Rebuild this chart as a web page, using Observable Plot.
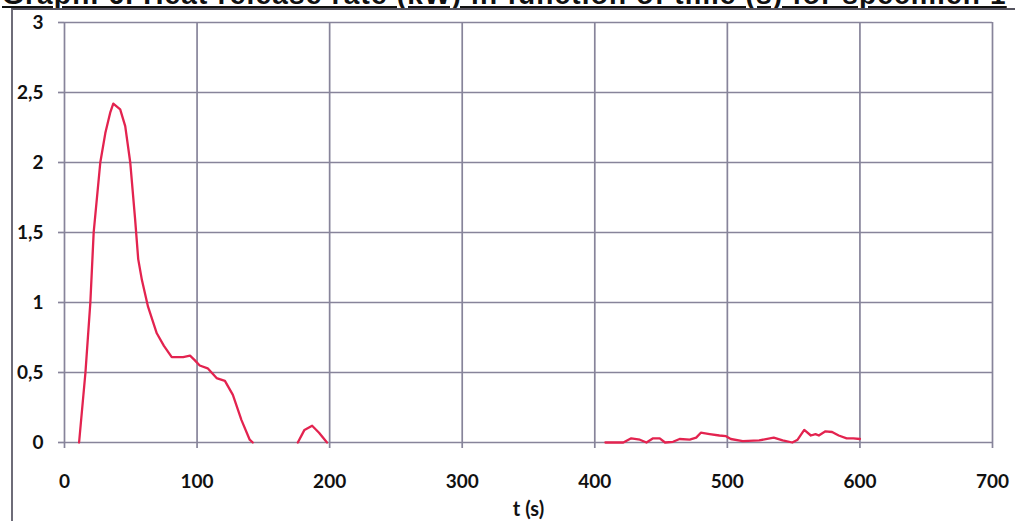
<!DOCTYPE html>
<html>
<head>
<meta charset="utf-8">
<script src="https://cdn.jsdelivr.net/npm/d3@7"></script>
<script src="https://cdn.jsdelivr.net/npm/@observablehq/plot@0.6"></script>
<style>
  html, body { margin: 0; padding: 0; background: #fff; width: 1015px; height: 521px; overflow: hidden; }
  #wrap { position: relative; width: 1015px; height: 521px; }
  #title { height: 8px; overflow: hidden; position: relative; font-family: "Liberation Sans", Arial, sans-serif; font-weight: bold; font-size: 28px; color: #111; white-space: nowrap; }
  #title span { position: absolute; left: 2px; bottom: -3px; text-decoration: underline; letter-spacing: 1.2px; }
  #frame { position: absolute; left: 11px; top: 8px; width: 1004px; height: 513px; border-left: 2px solid #6e6c78; border-top: 2px solid #55535e; box-sizing: border-box; pointer-events: none; }
  #chart svg { display: block; }
</style>
</head>
<body>
<div id="wrap">
  <div id="title"><span>Graph. 6. Heat release rate (kW) in function of time (s) for specimen 1</span></div>
  <div id="chart"></div>
  <div id="frame"></div>
</div>
<script>
// Burst 1 (main peak)
const t1 = [11, 15.8, 19.5, 22, 27, 30.8, 34.6, 36.8, 42, 45.8, 49.6, 53.3, 55.6, 58.4, 63, 69.6, 75, 80.9, 89.5, 94.7, 98, 102, 108, 114.7, 121, 127, 133.5, 139.7, 142];
const q1 = [0, 0.5, 1.0, 1.5, 2.0, 2.21, 2.36, 2.42, 2.38, 2.26, 2.0, 1.59, 1.31, 1.16, 0.97, 0.78, 0.69, 0.61, 0.61, 0.62, 0.59, 0.55, 0.53, 0.46, 0.44, 0.34, 0.16, 0.02, 0];
// Burst 2 (small bump)
const t2 = [176, 181, 186.8, 192, 198];
const q2 = [0, 0.09, 0.12, 0.07, 0];
// Burst 3 (late low-level release)
const t3 = [408, 414, 421.5, 427.5, 434, 439, 444, 449, 453, 459, 464, 471.6, 476.5, 480, 486.6, 494, 499, 502.6, 511.6, 524, 535, 541.7, 549, 553, 558, 563, 566.5, 569, 574, 579, 584, 590, 595, 600];
const q3 = [0, 0, 0, 0.03, 0.02, 0, 0.03, 0.03, 0, 0.005, 0.025, 0.02, 0.035, 0.07, 0.06, 0.05, 0.045, 0.025, 0.01, 0.015, 0.035, 0.015, 0, 0.02, 0.09, 0.05, 0.06, 0.05, 0.08, 0.075, 0.05, 0.03, 0.03, 0.025];

const xTicks = [0, 100, 200, 300, 400, 500, 600, 700];
const yTicks = [0, 0.5, 1, 1.5, 2, 2.5, 3];
const yTickLabels = ["0", "0,5", "1", "1,5", "2", "2,5", "3"];
const xLabel = "t (s)";

const data = [
  ...t1.map((t, i) => ({t, q: q1[i], burst: 1})),
  ...t2.map((t, i) => ({t, q: q2[i], burst: 2})),
  ...t3.map((t, i) => ({t, q: q3[i], burst: 3}))
];

const gridColor = "#87849a";
const chart = Plot.plot({
  width: 1015,
  height: 513,
  marginLeft: 64,
  marginRight: 23,
  marginTop: 14,
  marginBottom: 79,
  style: {fontFamily: "Lato, 'Open Sans', sans-serif", fontWeight: "bold", fontSize: "19px", color: "#111", background: "transparent"},
  x: {domain: [0, 700], ticks: xTicks, label: null},
  y: {domain: [0, 3], ticks: yTicks, label: null},
  marks: [
    Plot.gridX(xTicks, {stroke: gridColor, strokeOpacity: 1, strokeWidth: 1.7}),
    Plot.gridY(yTicks, {stroke: gridColor, strokeOpacity: 1, strokeWidth: 1.7}),
    Plot.axisX(xTicks, {tickSize: 6, tickPadding: 26, stroke: gridColor, strokeWidth: 1.7, fill: "#111", fontSize: 19, fontWeight: "bold"}),
    Plot.axisY(yTicks, {tickSize: 6, tickPadding: 15, stroke: gridColor, strokeWidth: 1.7, fill: "#111", fontSize: 19, fontWeight: "bold",
      tickFormat: (d) => yTickLabels[yTicks.indexOf(d)]}),
    Plot.text([xLabel], {frameAnchor: "bottom", dy: 73, text: (d) => d, fontSize: 20, fontWeight: "bold", fill: "#111"}),
    Plot.line(data, {x: "t", y: "q", z: "burst", stroke: "#e3234f", strokeWidth: 2.3, curve: "linear"})
  ]
});
document.getElementById("chart").appendChild(chart);
</script>
</body>
</html>
